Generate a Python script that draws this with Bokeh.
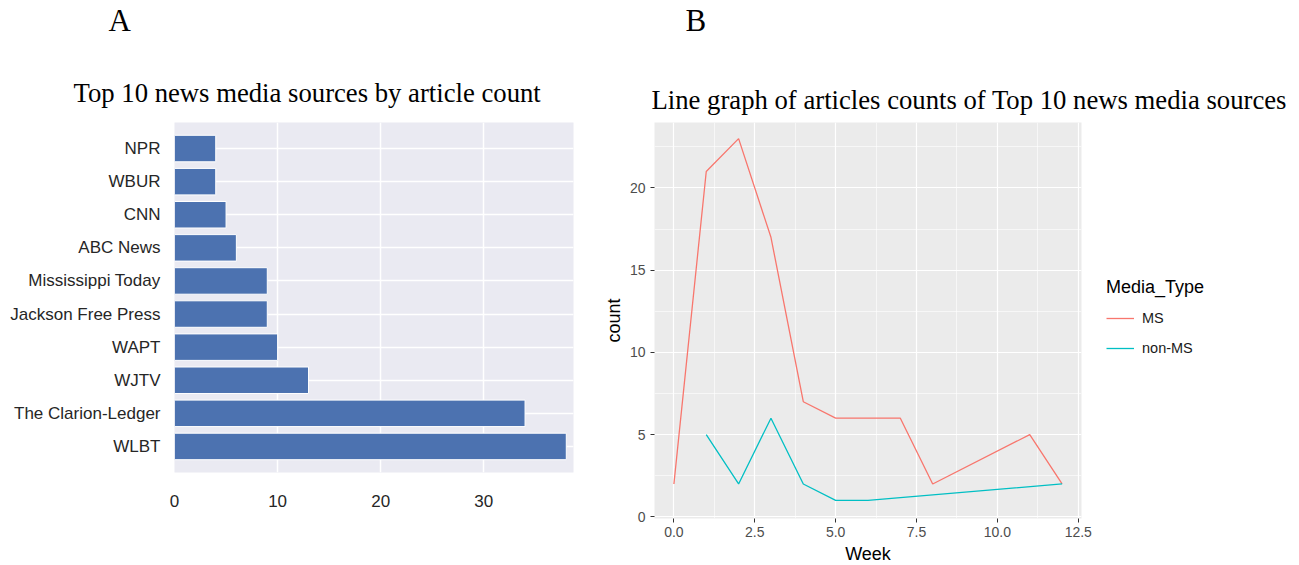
from bokeh.plotting import figure
from bokeh.layouts import row, column
from bokeh.models import (Range1d, FactorRange, SingleIntervalTicker, FixedTicker, Label,
                          Legend, LegendItem, ColumnDataSource, NumeralTickFormatter)
from bokeh.embed import file_html
from bokeh.resources import INLINE

# ---------------- data ----------------
sources = ["WLBT", "The Clarion-Ledger", "WJTV", "WAPT", "Jackson Free Press",
           "Mississippi Today", "ABC News", "CNN", "WBUR", "NPR"]
article_counts = [38, 34, 13, 10, 9, 9, 6, 5, 4, 4]
count_ticks = [0, 10, 20, 30]

ms_weeks = [0, 1, 2, 3, 4, 5, 7, 8, 11, 12]
ms_counts = [2, 21, 23, 17, 7, 6, 6, 2, 5, 2]
nonms_weeks = [1, 2, 3, 4, 5, 6, 12]
nonms_counts = [5, 2, 6, 2, 1, 1, 2]

title_a = "Top 10 news media sources by article count"
title_b = "Line graph of articles counts of Top 10 news media sources"

SANS = "Liberation Sans"
SERIF = "Liberation Serif"
HDR = 118
TOP_BORDER = 4


def header(width, texts):
    h = figure(frame_width=width, frame_height=HDR, x_range=Range1d(0, 1), y_range=Range1d(0, 1),
               x_axis_type=None, y_axis_type=None, toolbar_location=None, output_backend="svg",
               min_border=0, title=None)
    h.outline_line_color = None
    h.background_fill_color = "white"
    h.border_fill_color = "white"
    for text, x, y_from_top, size in texts:
        h.add_layout(Label(x=x, y=HDR - y_from_top, x_units="screen", y_units="screen", text=text,
                           text_font=SERIF, text_font_size=size, text_color="black",
                           text_align="left", text_baseline="alphabetic"))
    return h


hdr_a = header(600, [("A", 108, 20, "31px"), (title_a, 73, 92, "26.7px")])
hdr_b = header(699, [("B", 85, 20, "31px"), (title_b, 51, 99, "26.7px")])

# ---------------- panel A ----------------
src_a = ColumnDataSource(dict(source=sources, count=article_counts))
p1 = figure(frame_width=399, frame_height=350,
            y_range=FactorRange(factors=sources, range_padding=0.287, range_padding_units="absolute"),
            x_range=Range1d(0, 38.7), title=None,
            output_backend="svg", toolbar_location=None,
            min_border_left=174, min_border_right=27, min_border_top=TOP_BORDER, min_border_bottom=93)
p1.hbar(y="source", right="count", left=0, height=0.8, source=src_a,
        fill_color="#4C72B0", line_color="white", line_width=1)
p1.background_fill_color = "#EAEAF2"
p1.border_fill_color = "white"
p1.outline_line_color = None
p1.xaxis.ticker = FixedTicker(ticks=count_ticks)
for ax in (p1.xaxis[0], p1.yaxis[0]):
    ax.axis_line_color = None
    ax.major_tick_line_color = None
    ax.minor_tick_line_color = None
    ax.major_label_text_font = SANS
    ax.major_label_text_font_size = "17px"
    ax.major_label_text_color = "#262626"
p1.xaxis.major_label_standoff = 16
p1.yaxis.major_label_standoff = 8
p1.xgrid.grid_line_color = "white"
p1.xgrid.grid_line_width = 1.5
p1.ygrid.grid_line_color = "white"
p1.ygrid.grid_line_width = 1.5

# ---------------- panel B ----------------
p2 = figure(frame_width=427, frame_height=396,
            x_range=Range1d(-0.6, 12.6), y_range=Range1d(-0.1, 23.98), title=None,
            output_backend="svg", toolbar_location=None,
            min_border_left=50, min_border_right=222, min_border_top=TOP_BORDER, min_border_bottom=47)
p2.background_fill_color = "#EBEBEB"
p2.border_fill_color = "white"
p2.outline_line_color = None

bg_r = p2.quad(left=[], right=[], top=[], bottom=[], fill_color="#F2F2F2", line_color=None)
l_ms = p2.line(ms_weeks, ms_counts, line_color="#F8766D", line_width=1.3)
l_non = p2.line(nonms_weeks, nonms_counts, line_color="#00BFC4", line_width=1.3)

p2.xaxis.ticker = SingleIntervalTicker(interval=2.5, num_minor_ticks=2)
p2.xaxis.formatter = NumeralTickFormatter(format="0.0")
p2.yaxis.ticker = SingleIntervalTicker(interval=5, num_minor_ticks=2)
for ax in (p2.xaxis[0], p2.yaxis[0]):
    ax.axis_line_color = None
    ax.major_tick_line_color = "#333333"
    ax.major_tick_out = 4
    ax.major_tick_in = 0
    ax.minor_tick_line_color = None
    ax.major_label_text_font = SANS
    ax.major_label_text_font_size = "14px"
    ax.major_label_text_color = "#4D4D4D"
    ax.axis_label_text_font = SANS
    ax.axis_label_text_font_size = "18px"
    ax.axis_label_text_font_style = "normal"
    ax.axis_label_text_color = "black"
p2.xaxis.axis_label = "Week"
p2.yaxis.axis_label = "count"
p2.xaxis.major_label_standoff = 4
p2.xaxis.axis_label_standoff = 4
p2.yaxis.major_label_standoff = 5
p2.yaxis.axis_label_standoff = 3
for g in (p2.xgrid[0], p2.ygrid[0]):
    g.grid_line_color = "white"
    g.grid_line_width = 1.2
    g.minor_grid_line_color = "white"
    g.minor_grid_line_width = 0.6

legend = Legend(items=[LegendItem(label="MS", renderers=[bg_r, l_ms]),
                       LegendItem(label="non-MS", renderers=[bg_r, l_non])],
                title="Media_Type", location=(25, 155))
legend.title_text_font = SANS
legend.title_text_font_size = "18px"
legend.title_text_font_style = "normal"
legend.title_text_color = "black"
legend.title_standoff = 5
legend.label_text_font = SANS
legend.label_text_font_size = "14.5px"
legend.label_text_color = "#1a1a1a"
legend.label_standoff = 8
legend.glyph_width = 28
legend.glyph_height = 30
legend.spacing = 0
legend.padding = 0
legend.margin = 0
legend.border_line_color = None
legend.background_fill_alpha = 0
p2.add_layout(legend, "right")

layout = column(row(hdr_a, hdr_b, spacing=0), row(p1, p2, spacing=0), spacing=0)
open("out.html", "w").write(file_html(layout, INLINE))
